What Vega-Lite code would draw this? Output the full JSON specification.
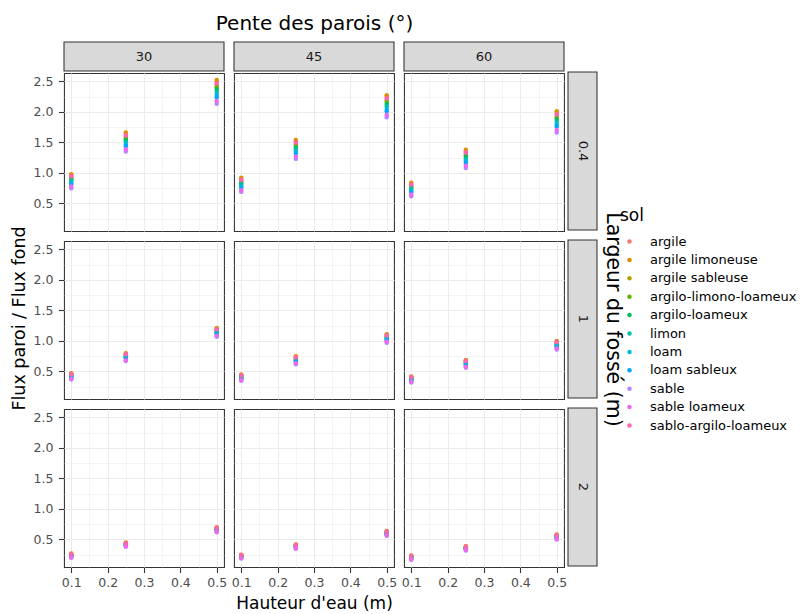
{
"$schema": "https://vega.github.io/schema/vega-lite/v6.json",
"background": "white",
"padding": {"left": 10, "top": 13, "right": 0, "bottom": 0},
"data": {"values": [
{"l":0.4,"p":30,"h":0.1,"sol":"argile","v":0.962},{"l":0.4,"p":30,"h":0.1,"sol":"argile limoneuse","v":0.98},{"l":0.4,"p":30,"h":0.1,"sol":"argile sableuse","v":0.929},{"l":0.4,"p":30,"h":0.1,"sol":"argilo-limono-loameux","v":0.911},{"l":0.4,"p":30,"h":0.1,"sol":"argilo-loameux","v":0.888},{"l":0.4,"p":30,"h":0.1,"sol":"limon","v":0.865},{"l":0.4,"p":30,"h":0.1,"sol":"loam","v":0.837},{"l":0.4,"p":30,"h":0.1,"sol":"loam sableux","v":0.814},{"l":0.4,"p":30,"h":0.1,"sol":"sable","v":0.75},{"l":0.4,"p":30,"h":0.1,"sol":"sable loameux","v":0.778},{"l":0.4,"p":30,"h":0.1,"sol":"sablo-argilo-loameux","v":0.946},
{"l":0.4,"p":30,"h":0.25,"sol":"argile","v":1.635},{"l":0.4,"p":30,"h":0.25,"sol":"argile limoneuse","v":1.66},{"l":0.4,"p":30,"h":0.25,"sol":"argile sableuse","v":1.592},{"l":0.4,"p":30,"h":0.25,"sol":"argilo-limono-loameux","v":1.567},{"l":0.4,"p":30,"h":0.25,"sol":"argilo-loameux","v":1.536},{"l":0.4,"p":30,"h":0.25,"sol":"limon","v":1.505},{"l":0.4,"p":30,"h":0.25,"sol":"loam","v":1.468},{"l":0.4,"p":30,"h":0.25,"sol":"loam sableux","v":1.437},{"l":0.4,"p":30,"h":0.25,"sol":"sable","v":1.35},{"l":0.4,"p":30,"h":0.25,"sol":"sable loameux","v":1.387},{"l":0.4,"p":30,"h":0.25,"sol":"sablo-argilo-loameux","v":1.614},
{"l":0.4,"p":30,"h":0.5,"sol":"argile","v":2.489},{"l":0.4,"p":30,"h":0.5,"sol":"argile limoneuse","v":2.52},{"l":0.4,"p":30,"h":0.5,"sol":"argile sableuse","v":2.434},{"l":0.4,"p":30,"h":0.5,"sol":"argilo-limono-loameux","v":2.403},{"l":0.4,"p":30,"h":0.5,"sol":"argilo-loameux","v":2.364},{"l":0.4,"p":30,"h":0.5,"sol":"limon","v":2.325},{"l":0.4,"p":30,"h":0.5,"sol":"loam","v":2.278},{"l":0.4,"p":30,"h":0.5,"sol":"loam sableux","v":2.239},{"l":0.4,"p":30,"h":0.5,"sol":"sable","v":2.13},{"l":0.4,"p":30,"h":0.5,"sol":"sable loameux","v":2.177},{"l":0.4,"p":30,"h":0.5,"sol":"sablo-argilo-loameux","v":2.462},
{"l":0.4,"p":45,"h":0.1,"sol":"argile","v":0.902},{"l":0.4,"p":45,"h":0.1,"sol":"argile limoneuse","v":0.92},{"l":0.4,"p":45,"h":0.1,"sol":"argile sableuse","v":0.869},{"l":0.4,"p":45,"h":0.1,"sol":"argilo-limono-loameux","v":0.851},{"l":0.4,"p":45,"h":0.1,"sol":"argilo-loameux","v":0.828},{"l":0.4,"p":45,"h":0.1,"sol":"limon","v":0.805},{"l":0.4,"p":45,"h":0.1,"sol":"loam","v":0.777},{"l":0.4,"p":45,"h":0.1,"sol":"loam sableux","v":0.754},{"l":0.4,"p":45,"h":0.1,"sol":"sable","v":0.69},{"l":0.4,"p":45,"h":0.1,"sol":"sable loameux","v":0.718},{"l":0.4,"p":45,"h":0.1,"sol":"sablo-argilo-loameux","v":0.886},
{"l":0.4,"p":45,"h":0.25,"sol":"argile","v":1.515},{"l":0.4,"p":45,"h":0.25,"sol":"argile limoneuse","v":1.54},{"l":0.4,"p":45,"h":0.25,"sol":"argile sableuse","v":1.472},{"l":0.4,"p":45,"h":0.25,"sol":"argilo-limono-loameux","v":1.447},{"l":0.4,"p":45,"h":0.25,"sol":"argilo-loameux","v":1.416},{"l":0.4,"p":45,"h":0.25,"sol":"limon","v":1.385},{"l":0.4,"p":45,"h":0.25,"sol":"loam","v":1.348},{"l":0.4,"p":45,"h":0.25,"sol":"loam sableux","v":1.317},{"l":0.4,"p":45,"h":0.25,"sol":"sable","v":1.23},{"l":0.4,"p":45,"h":0.25,"sol":"sable loameux","v":1.267},{"l":0.4,"p":45,"h":0.25,"sol":"sablo-argilo-loameux","v":1.494},
{"l":0.4,"p":45,"h":0.5,"sol":"argile","v":2.241},{"l":0.4,"p":45,"h":0.5,"sol":"argile limoneuse","v":2.27},{"l":0.4,"p":45,"h":0.5,"sol":"argile sableuse","v":2.191},{"l":0.4,"p":45,"h":0.5,"sol":"argilo-limono-loameux","v":2.162},{"l":0.4,"p":45,"h":0.5,"sol":"argilo-loameux","v":2.126},{"l":0.4,"p":45,"h":0.5,"sol":"limon","v":2.09},{"l":0.4,"p":45,"h":0.5,"sol":"loam","v":2.047},{"l":0.4,"p":45,"h":0.5,"sol":"loam sableux","v":2.011},{"l":0.4,"p":45,"h":0.5,"sol":"sable","v":1.91},{"l":0.4,"p":45,"h":0.5,"sol":"sable loameux","v":1.953},{"l":0.4,"p":45,"h":0.5,"sol":"sablo-argilo-loameux","v":2.216},
{"l":0.4,"p":60,"h":0.1,"sol":"argile","v":0.822},{"l":0.4,"p":60,"h":0.1,"sol":"argile limoneuse","v":0.84},{"l":0.4,"p":60,"h":0.1,"sol":"argile sableuse","v":0.792},{"l":0.4,"p":60,"h":0.1,"sol":"argilo-limono-loameux","v":0.774},{"l":0.4,"p":60,"h":0.1,"sol":"argilo-loameux","v":0.752},{"l":0.4,"p":60,"h":0.1,"sol":"limon","v":0.73},{"l":0.4,"p":60,"h":0.1,"sol":"loam","v":0.704},{"l":0.4,"p":60,"h":0.1,"sol":"loam sableux","v":0.682},{"l":0.4,"p":60,"h":0.1,"sol":"sable","v":0.62},{"l":0.4,"p":60,"h":0.1,"sol":"sable loameux","v":0.646},{"l":0.4,"p":60,"h":0.1,"sol":"sablo-argilo-loameux","v":0.807},
{"l":0.4,"p":60,"h":0.25,"sol":"argile","v":1.356},{"l":0.4,"p":60,"h":0.25,"sol":"argile limoneuse","v":1.38},{"l":0.4,"p":60,"h":0.25,"sol":"argile sableuse","v":1.314},{"l":0.4,"p":60,"h":0.25,"sol":"argilo-limono-loameux","v":1.29},{"l":0.4,"p":60,"h":0.25,"sol":"argilo-loameux","v":1.26},{"l":0.4,"p":60,"h":0.25,"sol":"limon","v":1.23},{"l":0.4,"p":60,"h":0.25,"sol":"loam","v":1.194},{"l":0.4,"p":60,"h":0.25,"sol":"loam sableux","v":1.164},{"l":0.4,"p":60,"h":0.25,"sol":"sable","v":1.08},{"l":0.4,"p":60,"h":0.25,"sol":"sable loameux","v":1.116},{"l":0.4,"p":60,"h":0.25,"sol":"sablo-argilo-loameux","v":1.335},
{"l":0.4,"p":60,"h":0.5,"sol":"argile","v":1.982},{"l":0.4,"p":60,"h":0.5,"sol":"argile limoneuse","v":2.01},{"l":0.4,"p":60,"h":0.5,"sol":"argile sableuse","v":1.933},{"l":0.4,"p":60,"h":0.5,"sol":"argilo-limono-loameux","v":1.905},{"l":0.4,"p":60,"h":0.5,"sol":"argilo-loameux","v":1.87},{"l":0.4,"p":60,"h":0.5,"sol":"limon","v":1.835},{"l":0.4,"p":60,"h":0.5,"sol":"loam","v":1.793},{"l":0.4,"p":60,"h":0.5,"sol":"loam sableux","v":1.758},{"l":0.4,"p":60,"h":0.5,"sol":"sable","v":1.66},{"l":0.4,"p":60,"h":0.5,"sol":"sable loameux","v":1.702},{"l":0.4,"p":60,"h":0.5,"sol":"sablo-argilo-loameux","v":1.958},
{"l":1,"p":30,"h":0.1,"sol":"argile","v":0.462},{"l":1,"p":30,"h":0.1,"sol":"argile limoneuse","v":0.47},{"l":1,"p":30,"h":0.1,"sol":"argile sableuse","v":0.448},{"l":1,"p":30,"h":0.1,"sol":"argilo-limono-loameux","v":0.44},{"l":1,"p":30,"h":0.1,"sol":"argilo-loameux","v":0.43},{"l":1,"p":30,"h":0.1,"sol":"limon","v":0.42},{"l":1,"p":30,"h":0.1,"sol":"loam","v":0.408},{"l":1,"p":30,"h":0.1,"sol":"loam sableux","v":0.398},{"l":1,"p":30,"h":0.1,"sol":"sable","v":0.37},{"l":1,"p":30,"h":0.1,"sol":"sable loameux","v":0.382},{"l":1,"p":30,"h":0.1,"sol":"sablo-argilo-loameux","v":0.455},
{"l":1,"p":30,"h":0.25,"sol":"argile","v":0.79},{"l":1,"p":30,"h":0.25,"sol":"argile limoneuse","v":0.8},{"l":1,"p":30,"h":0.25,"sol":"argile sableuse","v":0.771},{"l":1,"p":30,"h":0.25,"sol":"argilo-limono-loameux","v":0.761},{"l":1,"p":30,"h":0.25,"sol":"argilo-loameux","v":0.748},{"l":1,"p":30,"h":0.25,"sol":"limon","v":0.735},{"l":1,"p":30,"h":0.25,"sol":"loam","v":0.719},{"l":1,"p":30,"h":0.25,"sol":"loam sableux","v":0.706},{"l":1,"p":30,"h":0.25,"sol":"sable","v":0.67},{"l":1,"p":30,"h":0.25,"sol":"sable loameux","v":0.686},{"l":1,"p":30,"h":0.25,"sol":"sablo-argilo-loameux","v":0.781},
{"l":1,"p":30,"h":0.5,"sol":"argile","v":1.199},{"l":1,"p":30,"h":0.5,"sol":"argile limoneuse","v":1.21},{"l":1,"p":30,"h":0.5,"sol":"argile sableuse","v":1.179},{"l":1,"p":30,"h":0.5,"sol":"argilo-limono-loameux","v":1.168},{"l":1,"p":30,"h":0.5,"sol":"argilo-loameux","v":1.154},{"l":1,"p":30,"h":0.5,"sol":"limon","v":1.14},{"l":1,"p":30,"h":0.5,"sol":"loam","v":1.123},{"l":1,"p":30,"h":0.5,"sol":"loam sableux","v":1.109},{"l":1,"p":30,"h":0.5,"sol":"sable","v":1.07},{"l":1,"p":30,"h":0.5,"sol":"sable loameux","v":1.087},{"l":1,"p":30,"h":0.5,"sol":"sablo-argilo-loameux","v":1.189},
{"l":1,"p":45,"h":0.1,"sol":"argile","v":0.442},{"l":1,"p":45,"h":0.1,"sol":"argile limoneuse","v":0.45},{"l":1,"p":45,"h":0.1,"sol":"argile sableuse","v":0.428},{"l":1,"p":45,"h":0.1,"sol":"argilo-limono-loameux","v":0.42},{"l":1,"p":45,"h":0.1,"sol":"argilo-loameux","v":0.41},{"l":1,"p":45,"h":0.1,"sol":"limon","v":0.4},{"l":1,"p":45,"h":0.1,"sol":"loam","v":0.388},{"l":1,"p":45,"h":0.1,"sol":"loam sableux","v":0.378},{"l":1,"p":45,"h":0.1,"sol":"sable","v":0.35},{"l":1,"p":45,"h":0.1,"sol":"sable loameux","v":0.362},{"l":1,"p":45,"h":0.1,"sol":"sablo-argilo-loameux","v":0.435},
{"l":1,"p":45,"h":0.25,"sol":"argile","v":0.74},{"l":1,"p":45,"h":0.25,"sol":"argile limoneuse","v":0.75},{"l":1,"p":45,"h":0.25,"sol":"argile sableuse","v":0.721},{"l":1,"p":45,"h":0.25,"sol":"argilo-limono-loameux","v":0.711},{"l":1,"p":45,"h":0.25,"sol":"argilo-loameux","v":0.698},{"l":1,"p":45,"h":0.25,"sol":"limon","v":0.685},{"l":1,"p":45,"h":0.25,"sol":"loam","v":0.669},{"l":1,"p":45,"h":0.25,"sol":"loam sableux","v":0.656},{"l":1,"p":45,"h":0.25,"sol":"sable","v":0.62},{"l":1,"p":45,"h":0.25,"sol":"sable loameux","v":0.636},{"l":1,"p":45,"h":0.25,"sol":"sablo-argilo-loameux","v":0.731},
{"l":1,"p":45,"h":0.5,"sol":"argile","v":1.099},{"l":1,"p":45,"h":0.5,"sol":"argile limoneuse","v":1.11},{"l":1,"p":45,"h":0.5,"sol":"argile sableuse","v":1.079},{"l":1,"p":45,"h":0.5,"sol":"argilo-limono-loameux","v":1.068},{"l":1,"p":45,"h":0.5,"sol":"argilo-loameux","v":1.054},{"l":1,"p":45,"h":0.5,"sol":"limon","v":1.04},{"l":1,"p":45,"h":0.5,"sol":"loam","v":1.023},{"l":1,"p":45,"h":0.5,"sol":"loam sableux","v":1.009},{"l":1,"p":45,"h":0.5,"sol":"sable","v":0.97},{"l":1,"p":45,"h":0.5,"sol":"sable loameux","v":0.987},{"l":1,"p":45,"h":0.5,"sol":"sablo-argilo-loameux","v":1.089},
{"l":1,"p":60,"h":0.1,"sol":"argile","v":0.412},{"l":1,"p":60,"h":0.1,"sol":"argile limoneuse","v":0.42},{"l":1,"p":60,"h":0.1,"sol":"argile sableuse","v":0.398},{"l":1,"p":60,"h":0.1,"sol":"argilo-limono-loameux","v":0.39},{"l":1,"p":60,"h":0.1,"sol":"argilo-loameux","v":0.38},{"l":1,"p":60,"h":0.1,"sol":"limon","v":0.37},{"l":1,"p":60,"h":0.1,"sol":"loam","v":0.358},{"l":1,"p":60,"h":0.1,"sol":"loam sableux","v":0.348},{"l":1,"p":60,"h":0.1,"sol":"sable","v":0.32},{"l":1,"p":60,"h":0.1,"sol":"sable loameux","v":0.332},{"l":1,"p":60,"h":0.1,"sol":"sablo-argilo-loameux","v":0.405},
{"l":1,"p":60,"h":0.25,"sol":"argile","v":0.68},{"l":1,"p":60,"h":0.25,"sol":"argile limoneuse","v":0.69},{"l":1,"p":60,"h":0.25,"sol":"argile sableuse","v":0.661},{"l":1,"p":60,"h":0.25,"sol":"argilo-limono-loameux","v":0.651},{"l":1,"p":60,"h":0.25,"sol":"argilo-loameux","v":0.638},{"l":1,"p":60,"h":0.25,"sol":"limon","v":0.625},{"l":1,"p":60,"h":0.25,"sol":"loam","v":0.609},{"l":1,"p":60,"h":0.25,"sol":"loam sableux","v":0.596},{"l":1,"p":60,"h":0.25,"sol":"sable","v":0.56},{"l":1,"p":60,"h":0.25,"sol":"sable loameux","v":0.576},{"l":1,"p":60,"h":0.25,"sol":"sablo-argilo-loameux","v":0.671},
{"l":1,"p":60,"h":0.5,"sol":"argile","v":0.989},{"l":1,"p":60,"h":0.5,"sol":"argile limoneuse","v":1.0},{"l":1,"p":60,"h":0.5,"sol":"argile sableuse","v":0.969},{"l":1,"p":60,"h":0.5,"sol":"argilo-limono-loameux","v":0.958},{"l":1,"p":60,"h":0.5,"sol":"argilo-loameux","v":0.944},{"l":1,"p":60,"h":0.5,"sol":"limon","v":0.93},{"l":1,"p":60,"h":0.5,"sol":"loam","v":0.913},{"l":1,"p":60,"h":0.5,"sol":"loam sableux","v":0.899},{"l":1,"p":60,"h":0.5,"sol":"sable","v":0.86},{"l":1,"p":60,"h":0.5,"sol":"sable loameux","v":0.877},{"l":1,"p":60,"h":0.5,"sol":"sablo-argilo-loameux","v":0.979},
{"l":2,"p":30,"h":0.1,"sol":"argile","v":0.264},{"l":2,"p":30,"h":0.1,"sol":"argile limoneuse","v":0.27},{"l":2,"p":30,"h":0.1,"sol":"argile sableuse","v":0.255},{"l":2,"p":30,"h":0.1,"sol":"argilo-limono-loameux","v":0.249},{"l":2,"p":30,"h":0.1,"sol":"argilo-loameux","v":0.242},{"l":2,"p":30,"h":0.1,"sol":"limon","v":0.235},{"l":2,"p":30,"h":0.1,"sol":"loam","v":0.227},{"l":2,"p":30,"h":0.1,"sol":"loam sableux","v":0.22},{"l":2,"p":30,"h":0.1,"sol":"sable","v":0.2},{"l":2,"p":30,"h":0.1,"sol":"sable loameux","v":0.208},{"l":2,"p":30,"h":0.1,"sol":"sablo-argilo-loameux","v":0.26},
{"l":2,"p":30,"h":0.25,"sol":"argile","v":0.444},{"l":2,"p":30,"h":0.25,"sol":"argile limoneuse","v":0.45},{"l":2,"p":30,"h":0.25,"sol":"argile sableuse","v":0.435},{"l":2,"p":30,"h":0.25,"sol":"argilo-limono-loameux","v":0.429},{"l":2,"p":30,"h":0.25,"sol":"argilo-loameux","v":0.422},{"l":2,"p":30,"h":0.25,"sol":"limon","v":0.415},{"l":2,"p":30,"h":0.25,"sol":"loam","v":0.407},{"l":2,"p":30,"h":0.25,"sol":"loam sableux","v":0.4},{"l":2,"p":30,"h":0.25,"sol":"sable","v":0.38},{"l":2,"p":30,"h":0.25,"sol":"sable loameux","v":0.388},{"l":2,"p":30,"h":0.25,"sol":"sablo-argilo-loameux","v":0.44},
{"l":2,"p":30,"h":0.5,"sol":"argile","v":0.694},{"l":2,"p":30,"h":0.5,"sol":"argile limoneuse","v":0.7},{"l":2,"p":30,"h":0.5,"sol":"argile sableuse","v":0.682},{"l":2,"p":30,"h":0.5,"sol":"argilo-limono-loameux","v":0.676},{"l":2,"p":30,"h":0.5,"sol":"argilo-loameux","v":0.668},{"l":2,"p":30,"h":0.5,"sol":"limon","v":0.66},{"l":2,"p":30,"h":0.5,"sol":"loam","v":0.65},{"l":2,"p":30,"h":0.5,"sol":"loam sableux","v":0.642},{"l":2,"p":30,"h":0.5,"sol":"sable","v":0.62},{"l":2,"p":30,"h":0.5,"sol":"sable loameux","v":0.63},{"l":2,"p":30,"h":0.5,"sol":"sablo-argilo-loameux","v":0.688},
{"l":2,"p":45,"h":0.1,"sol":"argile","v":0.245},{"l":2,"p":45,"h":0.1,"sol":"argile limoneuse","v":0.25},{"l":2,"p":45,"h":0.1,"sol":"argile sableuse","v":0.237},{"l":2,"p":45,"h":0.1,"sol":"argilo-limono-loameux","v":0.232},{"l":2,"p":45,"h":0.1,"sol":"argilo-loameux","v":0.226},{"l":2,"p":45,"h":0.1,"sol":"limon","v":0.22},{"l":2,"p":45,"h":0.1,"sol":"loam","v":0.213},{"l":2,"p":45,"h":0.1,"sol":"loam sableux","v":0.207},{"l":2,"p":45,"h":0.1,"sol":"sable","v":0.19},{"l":2,"p":45,"h":0.1,"sol":"sable loameux","v":0.197},{"l":2,"p":45,"h":0.1,"sol":"sablo-argilo-loameux","v":0.241},
{"l":2,"p":45,"h":0.25,"sol":"argile","v":0.414},{"l":2,"p":45,"h":0.25,"sol":"argile limoneuse","v":0.42},{"l":2,"p":45,"h":0.25,"sol":"argile sableuse","v":0.405},{"l":2,"p":45,"h":0.25,"sol":"argilo-limono-loameux","v":0.399},{"l":2,"p":45,"h":0.25,"sol":"argilo-loameux","v":0.392},{"l":2,"p":45,"h":0.25,"sol":"limon","v":0.385},{"l":2,"p":45,"h":0.25,"sol":"loam","v":0.377},{"l":2,"p":45,"h":0.25,"sol":"loam sableux","v":0.37},{"l":2,"p":45,"h":0.25,"sol":"sable","v":0.35},{"l":2,"p":45,"h":0.25,"sol":"sable loameux","v":0.358},{"l":2,"p":45,"h":0.25,"sol":"sablo-argilo-loameux","v":0.41},
{"l":2,"p":45,"h":0.5,"sol":"argile","v":0.634},{"l":2,"p":45,"h":0.5,"sol":"argile limoneuse","v":0.64},{"l":2,"p":45,"h":0.5,"sol":"argile sableuse","v":0.622},{"l":2,"p":45,"h":0.5,"sol":"argilo-limono-loameux","v":0.616},{"l":2,"p":45,"h":0.5,"sol":"argilo-loameux","v":0.608},{"l":2,"p":45,"h":0.5,"sol":"limon","v":0.6},{"l":2,"p":45,"h":0.5,"sol":"loam","v":0.59},{"l":2,"p":45,"h":0.5,"sol":"loam sableux","v":0.582},{"l":2,"p":45,"h":0.5,"sol":"sable","v":0.56},{"l":2,"p":45,"h":0.5,"sol":"sable loameux","v":0.57},{"l":2,"p":45,"h":0.5,"sol":"sablo-argilo-loameux","v":0.628},
{"l":2,"p":60,"h":0.1,"sol":"argile","v":0.234},{"l":2,"p":60,"h":0.1,"sol":"argile limoneuse","v":0.24},{"l":2,"p":60,"h":0.1,"sol":"argile sableuse","v":0.225},{"l":2,"p":60,"h":0.1,"sol":"argilo-limono-loameux","v":0.219},{"l":2,"p":60,"h":0.1,"sol":"argilo-loameux","v":0.212},{"l":2,"p":60,"h":0.1,"sol":"limon","v":0.205},{"l":2,"p":60,"h":0.1,"sol":"loam","v":0.197},{"l":2,"p":60,"h":0.1,"sol":"loam sableux","v":0.19},{"l":2,"p":60,"h":0.1,"sol":"sable","v":0.17},{"l":2,"p":60,"h":0.1,"sol":"sable loameux","v":0.178},{"l":2,"p":60,"h":0.1,"sol":"sablo-argilo-loameux","v":0.23},
{"l":2,"p":60,"h":0.25,"sol":"argile","v":0.384},{"l":2,"p":60,"h":0.25,"sol":"argile limoneuse","v":0.39},{"l":2,"p":60,"h":0.25,"sol":"argile sableuse","v":0.375},{"l":2,"p":60,"h":0.25,"sol":"argilo-limono-loameux","v":0.369},{"l":2,"p":60,"h":0.25,"sol":"argilo-loameux","v":0.362},{"l":2,"p":60,"h":0.25,"sol":"limon","v":0.355},{"l":2,"p":60,"h":0.25,"sol":"loam","v":0.347},{"l":2,"p":60,"h":0.25,"sol":"loam sableux","v":0.34},{"l":2,"p":60,"h":0.25,"sol":"sable","v":0.32},{"l":2,"p":60,"h":0.25,"sol":"sable loameux","v":0.328},{"l":2,"p":60,"h":0.25,"sol":"sablo-argilo-loameux","v":0.38},
{"l":2,"p":60,"h":0.5,"sol":"argile","v":0.574},{"l":2,"p":60,"h":0.5,"sol":"argile limoneuse","v":0.58},{"l":2,"p":60,"h":0.5,"sol":"argile sableuse","v":0.562},{"l":2,"p":60,"h":0.5,"sol":"argilo-limono-loameux","v":0.556},{"l":2,"p":60,"h":0.5,"sol":"argilo-loameux","v":0.548},{"l":2,"p":60,"h":0.5,"sol":"limon","v":0.54},{"l":2,"p":60,"h":0.5,"sol":"loam","v":0.53},{"l":2,"p":60,"h":0.5,"sol":"loam sableux","v":0.522},{"l":2,"p":60,"h":0.5,"sol":"sable","v":0.5},{"l":2,"p":60,"h":0.5,"sol":"sable loameux","v":0.51},{"l":2,"p":60,"h":0.5,"sol":"sablo-argilo-loameux","v":0.568}
]},
"spacing": 0,
"hconcat": [
  {
    "spacing": 0,
    "vconcat": [
      {"width": 4.5, "height": 29, "view": {"stroke": null}, "mark": {"type": "point", "opacity": 0}, "encoding": {}},
      {"width": 4.5, "height": 494, "view": {"stroke": null}, "mark": {"type": "point", "opacity": 0},
       "encoding": {"y": {"field": "v", "type": "quantitative",
                          "axis": {"title": "Flux paroi / Flux fond", "labels": false, "ticks": false, "domain": false, "grid": false, "titlePadding": 0, "titleFontSize": 17.5}}}}
    ]
  },
  {
    "spacing": 0,
    "hconcat": [
      {
        "spacing": 0,
        "vconcat": [
          {
            "data": {"values": [{"p": "30"}, {"p": "45"}, {"p": "60"}]},
            "width": 500,
            "height": 29,
            "view": {"stroke": null},
            "layer": [
              {
                "mark": {"type": "rect", "fill": "#D9D9D9", "stroke": "#333333", "strokeWidth": 1.07},
                "encoding": {
                  "x": {"field": "p", "type": "nominal", "sort": ["30", "45", "60"],
                        "scale": {"type": "band", "paddingInner": 0.0588, "paddingOuter": 0},
                        "axis": {"orient": "top", "title": "Pente des parois (°)", "labels": false, "ticks": false, "domain": false, "grid": false, "titleFontSize": 20, "titlePadding": 9}}
                }
              },
              {
                "mark": {"type": "text", "fontSize": 13, "color": "#1A1A1A", "font": "DejaVu Sans"},
                "encoding": {
                  "x": {"field": "p", "type": "nominal", "sort": ["30", "45", "60"]},
                  "text": {"field": "p", "type": "nominal"}
                }
              }
            ]
          },
          {
            "facet": {
              "row": {"field": "l", "type": "ordinal", "header": {"labels": false, "title": null}},
              "column": {"field": "p", "type": "ordinal", "header": {"labels": false, "title": null}}
            },
            "spacing": 10,
            "bounds": "flush",
            "spec": {
              "width": 160,
              "height": 158,
              "mark": {"type": "point", "filled": true, "size": 20, "opacity": 1},
              "encoding": {
                "x": {"field": "h", "type": "quantitative",
                      "scale": {"domain": [0.08, 0.52], "nice": false, "zero": false},
                      "axis": {"values": [0.1, 0.15, 0.2, 0.25, 0.3, 0.35, 0.4, 0.45, 0.5], "format": ".1f",
                               "labelExpr": "round(datum.value*100) % 10 == 0 ? datum.label : ''",
                               "labelOverlap": false, "labelFlush": false,
                               "tickOpacity": {"condition": {"test": "round(datum.value*100) % 10 == 0", "value": 1}, "value": 0},
                               "gridWidth": {"condition": {"test": "round(datum.value*100) % 10 == 0", "value": 1.07}, "value": 0.53},
                               "title": null, "tickSize": 5.5, "labelPadding": 3.5}},
                "y": {"field": "v", "type": "quantitative",
                      "scale": {"domain": [0.05, 2.635], "nice": false, "zero": false},
                      "axis": {"values": [0.25, 0.5, 0.75, 1, 1.25, 1.5, 1.75, 2, 2.25, 2.5], "format": ".1f",
                               "labelExpr": "round(datum.value*100) % 50 == 0 ? datum.label : ''",
                               "labelOverlap": false, "labelFlush": false,
                               "tickOpacity": {"condition": {"test": "round(datum.value*100) % 50 == 0", "value": 1}, "value": 0},
                               "gridWidth": {"condition": {"test": "round(datum.value*100) % 50 == 0", "value": 1.07}, "value": 0.53},
                               "title": null, "tickSize": 5.5, "labelPadding": 5.5}},
                "color": {"field": "sol", "type": "nominal",
                          "scale": {"domain": ["argile", "argile limoneuse", "argile sableuse", "argilo-limono-loameux", "argilo-loameux", "limon", "loam", "loam sableux", "sable", "sable loameux", "sablo-argilo-loameux"],
                                    "range": ["#F8766D", "#DB8E00", "#AEA200", "#64B200", "#00BD5C", "#00C1A7", "#00BADE", "#00A6FF", "#B385FF", "#EF67EB", "#FF63B6"]},
                          "legend": {"title": "sol", "orient": "none", "legendX": 592, "legendY": 166}}
              }
            }
          },
          {"width": 500, "height": 1, "view": {"stroke": null}, "mark": {"type": "point", "opacity": 0},
           "encoding": {"x": {"field": "h", "type": "quantitative",
                              "axis": {"title": "Hauteur d'eau (m)", "labels": false, "ticks": false, "domain": false, "grid": false, "titlePadding": 2.5, "titleFontSize": 17}}}}
        ]
      },
      {
        "spacing": 0,
        "vconcat": [
          {"width": 29, "height": 29, "view": {"stroke": null}, "mark": {"type": "point", "opacity": 0}, "encoding": {}},
          {
            "data": {"values": [{"l": "0.4"}, {"l": "1"}, {"l": "2"}]},
            "width": 29,
            "height": 494,
            "view": {"stroke": null},
            "layer": [
              {
                "mark": {"type": "rect", "fill": "#D9D9D9", "stroke": "#333333", "strokeWidth": 1.07},
                "encoding": {
                  "y": {"field": "l", "type": "nominal", "sort": ["0.4", "1", "2"],
                        "scale": {"type": "band", "paddingInner": 0.0595, "paddingOuter": 0},
                        "axis": {"orient": "right", "title": "Largeur du fossé (m)", "labels": false, "ticks": false, "domain": false, "grid": false, "titleFontSize": 20.5, "titlePadding": 5}}
                }
              },
              {
                "mark": {"type": "text", "fontSize": 13, "color": "#1A1A1A", "angle": 90, "font": "DejaVu Sans"},
                "encoding": {
                  "y": {"field": "l", "type": "nominal", "sort": ["0.4", "1", "2"]},
                  "text": {"field": "l", "type": "nominal"}
                }
              }
            ]
          }
        ]
      }
    ]
  }
],
"config": {
  "font": "DejaVu Sans",
  "view": {"stroke": "#333333", "strokeWidth": 1.07},
  "axis": {"gridColor": "#EBEBEB", "labelColor": "#4D4D4D", "labelFontSize": 12.5, "labelFont": "DejaVu Sans",
           "titleFont": "DejaVu Sans", "titleFontSize": 17, "titleFontWeight": "normal", "titleColor": "#000000",
           "tickColor": "#333333", "tickSize": 3.5, "tickWidth": 1.07, "domain": false},
  "legend": {"titleFont": "DejaVu Sans", "titleFontSize": 17, "titleFontWeight": "normal", "titleColor": "#000000",
             "labelFont": "DejaVu Sans", "labelFontSize": 13, "labelColor": "#000000",
             "symbolType": "circle", "symbolSize": 20, "symbolStrokeWidth": 0, "symbolOpacity": 1,
             "rowPadding": 4.4, "titlePadding": 10, "labelOffset": 14, "symbolOffset": 3}
}
}
